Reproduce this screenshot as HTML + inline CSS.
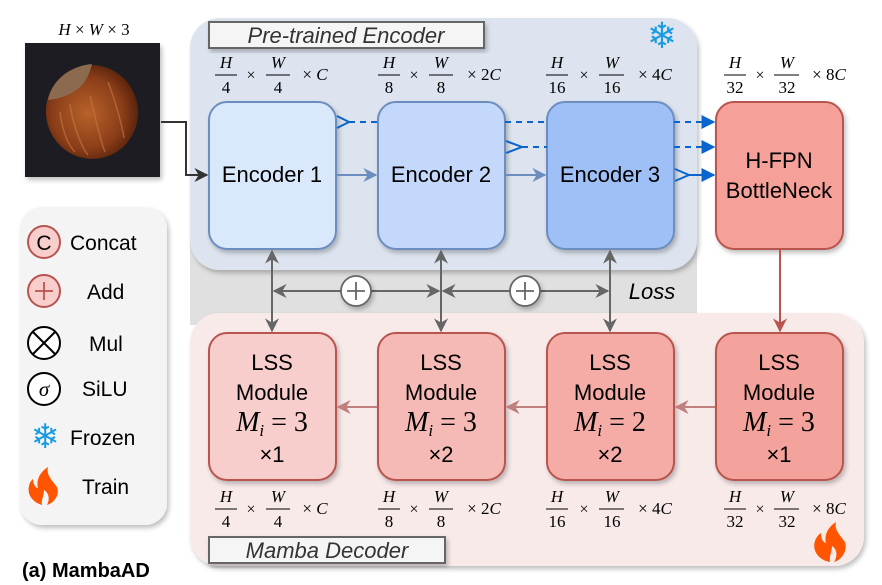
<!DOCTYPE html>
<html><head><meta charset="utf-8"><style>
html,body{margin:0;padding:0;background:#fff;}
svg{display:block;}
.s{font-family:"Liberation Sans",sans-serif;}
.m{font-family:"Liberation Serif","DejaVu Serif",serif;font-style:italic;font-size:17px;}
.n{font-family:"Liberation Serif","DejaVu Serif",serif;font-size:17px;}
.x{font-family:"Liberation Serif","DejaVu Serif",serif;font-size:16px;}
</style></head><body>
<svg width="882" height="585" viewBox="0 0 882 585" xmlns="http://www.w3.org/2000/svg">
<defs>
<filter id="sh" x="-10%" y="-10%" width="130%" height="130%"><feDropShadow dx="2" dy="3" stdDeviation="2.5" flood-color="#000" flood-opacity="0.25"/></filter>
<marker id="ag" viewBox="0 0 10 10" refX="9" refY="5" markerWidth="7" markerHeight="7" orient="auto-start-reverse"><path d="M0,0 L10,5 L0,10 L3,5z" fill="#666"/></marker>
<marker id="ab" viewBox="0 0 10 10" refX="9" refY="5" markerWidth="7" markerHeight="7" orient="auto"><path d="M0,0 L10,5 L0,10 L3,5z" fill="#6c8ebf"/></marker>
<marker id="ad" viewBox="0 0 10 10" refX="9" refY="5" markerWidth="7" markerHeight="7" orient="auto"><path d="M0,0 L10,5 L0,10z" fill="#0a66cc"/></marker>
<marker id="ar" viewBox="0 0 10 10" refX="9" refY="5" markerWidth="7" markerHeight="7" orient="auto"><path d="M0,0 L10,5 L0,10 L3,5z" fill="#b85450"/></marker>
<marker id="ap" viewBox="0 0 10 10" refX="9" refY="5" markerWidth="7" markerHeight="7" orient="auto"><path d="M0,0 L10,5 L0,10 L3,5z" fill="#c08080"/></marker>
<marker id="ak" viewBox="0 0 10 10" refX="9" refY="5" markerWidth="7" markerHeight="7" orient="auto"><path d="M0,0 L10,5 L0,10 L3,5z" fill="#333"/></marker>
<radialGradient id="nut" cx="45%" cy="50%" r="55%"><stop offset="0" stop-color="#b8622a"/><stop offset="0.7" stop-color="#8a3d18"/><stop offset="1" stop-color="#5a240c"/></radialGradient>
</defs>

<rect x="190" y="240" width="507" height="85" fill="#e0e0e0"/>
<rect x="190" y="18" width="507" height="252" rx="30" fill="#dde4ef" filter="url(#sh)"/>
<rect x="190" y="313" width="674" height="253" rx="30" fill="#f9eaea" filter="url(#sh)"/>
<rect x="20" y="207" width="147" height="318" rx="22" fill="#f4f4f4" filter="url(#sh)"/>

<rect x="25" y="43" width="135" height="134" fill="#1c1b20" filter="url(#sh)"/>
<ellipse cx="92" cy="112" rx="46" ry="47" fill="url(#nut)" transform="rotate(-15 92 112)"/>
<path d="M48,100 C52,80 70,66 92,64 C88,80 80,96 48,100z" fill="#8c6a50"/>
<g stroke="#c57a45" stroke-width="1.5" fill="none" opacity="0.6">
<path d="M70,104 C72,120 80,145 88,155"/><path d="M90,96 C95,115 100,140 105,152"/><path d="M108,82 C115,100 122,125 124,138"/><path d="M60,112 C62,130 68,145 75,152"/>
</g>
<text x="94" y="35" text-anchor="middle" class="m">H <tspan font-style="normal">×</tspan> W <tspan font-style="normal">×</tspan> <tspan font-style="normal">3</tspan></text>

<rect x="209" y="22" width="275" height="26" fill="#f5f5f5" stroke="#666" stroke-width="2" filter="url(#sh)"/>
<text x="346" y="43" text-anchor="middle" class="s" font-size="22" font-style="italic" fill="#333">Pre-trained  Encoder</text>
<rect x="209" y="537" width="236" height="26" fill="#f5f5f5" stroke="#666" stroke-width="2" filter="url(#sh)"/>
<text x="327" y="558" text-anchor="middle" class="s" font-size="22" font-style="italic" fill="#333">Mamba Decoder</text>

<text x="662" y="48" text-anchor="middle" font-size="36" fill="#1a9be0" font-family="DejaVu Sans,sans-serif">❄</text>
<path d="M830,562 C818,560 812,550 815,541 C817,535 821,533 821,533 C821,540 824,543 826,543 C824,535 828,527 836,522 C834,530 840,535 845,542 C848,550 842,560 834,562 C838,556 837,549 832,546 C832,552 829,556 830,562z" fill="#ff5500"/>

<path d="M161,122 H186 V175 H207" fill="none" stroke="#333" stroke-width="2" marker-end="url(#ak)"/>

<rect x="209" y="102" width="127" height="147" rx="18" fill="#dae8fc" stroke="#6c8ebf" stroke-width="2" filter="url(#sh)"/>
<rect x="378" y="102" width="127" height="147" rx="18" fill="#c4d8fb" stroke="#6c8ebf" stroke-width="2" filter="url(#sh)"/>
<rect x="547" y="102" width="127" height="147" rx="18" fill="#9fbff7" stroke="#6c8ebf" stroke-width="2" filter="url(#sh)"/>
<rect x="716" y="102" width="127" height="147" rx="18" fill="#f5a19a" stroke="#b85450" stroke-width="2" filter="url(#sh)"/>
<g class="s" font-size="22" text-anchor="middle" fill="#000">
<text x="272" y="182">Encoder 1</text>
<text x="441" y="182">Encoder 2</text>
<text x="610" y="182">Encoder 3</text>
<text x="779" y="168">H-FPN</text>
<text x="779" y="198">BottleNeck</text>
</g>

<line x1="337" y1="175" x2="376" y2="175" stroke="#6c8ebf" stroke-width="2" marker-end="url(#ab)"/>
<line x1="506" y1="175" x2="545" y2="175" stroke="#6c8ebf" stroke-width="2" marker-end="url(#ab)"/>
<g stroke="#0a66cc" stroke-width="2" fill="none">
<path d="M337,116 L349,122 L337,128"/>
<line x1="349" y1="122" x2="378" y2="122" stroke-dasharray="6,5"/>
<line x1="505" y1="122" x2="547" y2="122" stroke-dasharray="6,5"/>
<line x1="674" y1="122" x2="714" y2="122" stroke-dasharray="6,5" marker-end="url(#ad)"/>
<path d="M506,141 L522,147 L506,153"/>
<line x1="522" y1="147" x2="547" y2="147" stroke-dasharray="6,5"/>
<line x1="674" y1="147" x2="714" y2="147" stroke-dasharray="6,5" marker-end="url(#ad)"/>
<path d="M675,169 L689,175 L675,181"/>
<line x1="689" y1="175" x2="714" y2="175" marker-end="url(#ad)"/>
</g>

<line x1="780" y1="250" x2="780" y2="331" stroke="#b85450" stroke-width="2" marker-end="url(#ar)"/>

<g stroke="#666" stroke-width="2" fill="none">
<line x1="272" y1="291" x2="272" y2="251" marker-end="url(#ag)"/>
<line x1="272" y1="291" x2="272" y2="331" marker-end="url(#ag)"/>
<line x1="441" y1="291" x2="441" y2="251" marker-end="url(#ag)"/>
<line x1="441" y1="291" x2="441" y2="331" marker-end="url(#ag)"/>
<line x1="610" y1="291" x2="610" y2="251" marker-end="url(#ag)"/>
<line x1="610" y1="291" x2="610" y2="331" marker-end="url(#ag)"/>
<line x1="341" y1="291" x2="274" y2="291" marker-end="url(#ag)"/>
<line x1="371" y1="291" x2="439" y2="291" marker-end="url(#ag)"/>
<line x1="510" y1="291" x2="443" y2="291" marker-end="url(#ag)"/>
<line x1="540" y1="291" x2="608" y2="291" marker-end="url(#ag)"/>
</g>
<g stroke="#666" stroke-width="1.8" fill="#fff">
<circle cx="356" cy="291" r="15" filter="url(#sh)"/>
<circle cx="525" cy="291" r="15" filter="url(#sh)"/>
<path d="M356,282 V300 M347,291 H365 M525,282 V300 M516,291 H534" fill="none"/>
</g>
<text x="652" y="299" class="s" font-size="22" font-style="italic" text-anchor="middle">Loss</text>

<rect x="209" y="333" width="127" height="147" rx="18" fill="#f8cecc" stroke="#b85450" stroke-width="2" filter="url(#sh)"/>
<rect x="378" y="333" width="127" height="147" rx="18" fill="#f6bab6" stroke="#b85450" stroke-width="2" filter="url(#sh)"/>
<rect x="547" y="333" width="127" height="147" rx="18" fill="#f5aca7" stroke="#b85450" stroke-width="2" filter="url(#sh)"/>
<rect x="716" y="333" width="127" height="147" rx="18" fill="#f4a29c" stroke="#b85450" stroke-width="2" filter="url(#sh)"/>
<g stroke="#c08080" stroke-width="2">
<line x1="377" y1="407" x2="338" y2="407" marker-end="url(#ap)"/>
<line x1="546" y1="407" x2="507" y2="407" marker-end="url(#ap)"/>
<line x1="715" y1="407" x2="676" y2="407" marker-end="url(#ap)"/>
</g>
<g text-anchor="middle" fill="#000">
<g class="s" font-size="22">
<text x="272" y="370">LSS</text><text x="272" y="400">Module</text><text x="272" y="462">×1</text>
<text x="441" y="370">LSS</text><text x="441" y="400">Module</text><text x="441" y="462">×2</text>
<text x="610" y="370">LSS</text><text x="610" y="400">Module</text><text x="610" y="462">×2</text>
<text x="779" y="370">LSS</text><text x="779" y="400">Module</text><text x="779" y="462">×1</text>
</g>
<g font-family="Liberation Serif,serif" font-size="28">
<text x="272" y="431"><tspan font-style="italic">M</tspan><tspan font-style="italic" font-size="17" dy="5">i</tspan><tspan dy="-5"> = 3</tspan></text>
<text x="441" y="431"><tspan font-style="italic">M</tspan><tspan font-style="italic" font-size="17" dy="5">i</tspan><tspan dy="-5"> = 3</tspan></text>
<text x="610" y="431"><tspan font-style="italic">M</tspan><tspan font-style="italic" font-size="17" dy="5">i</tspan><tspan dy="-5"> = 2</tspan></text>
<text x="779" y="431"><tspan font-style="italic">M</tspan><tspan font-style="italic" font-size="17" dy="5">i</tspan><tspan dy="-5"> = 3</tspan></text>
</g>
</g>

<g text-anchor="middle">
<text x="226" y="68" class="m">H</text><line x1="215" y1="75" x2="237" y2="75" stroke="#000"/><text x="226" y="93" class="n">4</text>
<text x="251" y="80" class="x">×</text>
<text x="278" y="68" class="m">W</text><line x1="266" y1="75" x2="290" y2="75" stroke="#000"/><text x="278" y="93" class="n">4</text>
<text x="315" y="80" class="m"><tspan font-style="normal">× </tspan>C</text>
<text x="389" y="68" class="m">H</text><line x1="378" y1="75" x2="400" y2="75" stroke="#000"/><text x="389" y="93" class="n">8</text>
<text x="414" y="80" class="x">×</text>
<text x="441" y="68" class="m">W</text><line x1="429" y1="75" x2="453" y2="75" stroke="#000"/><text x="441" y="93" class="n">8</text>
<text x="484" y="80" class="m"><tspan font-style="normal">× 2</tspan>C</text>
<text x="557" y="68" class="m">H</text><line x1="546" y1="75" x2="568" y2="75" stroke="#000"/><text x="557" y="93" class="n">16</text>
<text x="584" y="80" class="x">×</text>
<text x="612" y="68" class="m">W</text><line x1="599" y1="75" x2="624" y2="75" stroke="#000"/><text x="612" y="93" class="n">16</text>
<text x="655" y="80" class="m"><tspan font-style="normal">× 4</tspan>C</text>
<text x="735" y="68" class="m">H</text><line x1="724" y1="75" x2="746" y2="75" stroke="#000"/><text x="735" y="93" class="n">32</text>
<text x="760" y="80" class="x">×</text>
<text x="787" y="68" class="m">W</text><line x1="774" y1="75" x2="799" y2="75" stroke="#000"/><text x="787" y="93" class="n">32</text>
<text x="829" y="80" class="m"><tspan font-style="normal">× 8</tspan>C</text>
</g>
<g text-anchor="middle" transform="translate(0,434)">
<text x="226" y="68" class="m">H</text><line x1="215" y1="75" x2="237" y2="75" stroke="#000"/><text x="226" y="93" class="n">4</text>
<text x="251" y="80" class="x">×</text>
<text x="278" y="68" class="m">W</text><line x1="266" y1="75" x2="290" y2="75" stroke="#000"/><text x="278" y="93" class="n">4</text>
<text x="315" y="80" class="m"><tspan font-style="normal">× </tspan>C</text>
<text x="389" y="68" class="m">H</text><line x1="378" y1="75" x2="400" y2="75" stroke="#000"/><text x="389" y="93" class="n">8</text>
<text x="414" y="80" class="x">×</text>
<text x="441" y="68" class="m">W</text><line x1="429" y1="75" x2="453" y2="75" stroke="#000"/><text x="441" y="93" class="n">8</text>
<text x="484" y="80" class="m"><tspan font-style="normal">× 2</tspan>C</text>
<text x="557" y="68" class="m">H</text><line x1="546" y1="75" x2="568" y2="75" stroke="#000"/><text x="557" y="93" class="n">16</text>
<text x="584" y="80" class="x">×</text>
<text x="612" y="68" class="m">W</text><line x1="599" y1="75" x2="624" y2="75" stroke="#000"/><text x="612" y="93" class="n">16</text>
<text x="655" y="80" class="m"><tspan font-style="normal">× 4</tspan>C</text>
<text x="735" y="68" class="m">H</text><line x1="724" y1="75" x2="746" y2="75" stroke="#000"/><text x="735" y="93" class="n">32</text>
<text x="760" y="80" class="x">×</text>
<text x="787" y="68" class="m">W</text><line x1="774" y1="75" x2="799" y2="75" stroke="#000"/><text x="787" y="93" class="n">32</text>
<text x="829" y="80" class="m"><tspan font-style="normal">× 8</tspan>C</text>
</g>

<circle cx="44" cy="242" r="16" fill="#f8cecc" stroke="#b85450" stroke-width="2"/>
<text x="44" y="250" text-anchor="middle" class="s" font-size="21" fill="#000">C</text>
<circle cx="44" cy="291" r="16" fill="#f8cecc" stroke="#b85450" stroke-width="2"/>
<path d="M44,282 V300 M35,291 H53" stroke="#b85450" stroke-width="1.8"/>
<circle cx="44" cy="343" r="16" fill="#fff" stroke="#000" stroke-width="2"/>
<path d="M33,332 L55,354 M55,332 L33,354" stroke="#000" stroke-width="2"/>
<circle cx="44" cy="389" r="16" fill="#fff" stroke="#000" stroke-width="2"/>
<text x="44" y="396" text-anchor="middle" font-family="Liberation Serif,serif" font-style="italic" font-size="21">σ</text>
<text x="45" y="448" text-anchor="middle" font-size="34" fill="#1a9be0" font-family="DejaVu Sans,sans-serif">❄</text>
<path d="M42,505 C32,502 27,494 29,486 C30,481 33,479 33,479 C33,485 36,488 38,488 C36,480 40,472 48,467 C46,475 52,480 57,487 C60,495 54,503 47,505 C50,499 49,493 44,490 C44,496 41,500 42,505z" fill="#ff5500"/>
<g class="s" font-size="21" fill="#000">
<text x="70" y="250">Concat</text>
<text x="87" y="299">Add</text>
<text x="89" y="351">Mul</text>
<text x="82" y="396">SiLU</text>
<text x="70" y="445">Frozen</text>
<text x="82" y="494">Train</text>
</g>
<text x="22" y="577" class="s" font-size="20" font-weight="bold">(a) MambaAD</text>
</svg>
</body></html>
